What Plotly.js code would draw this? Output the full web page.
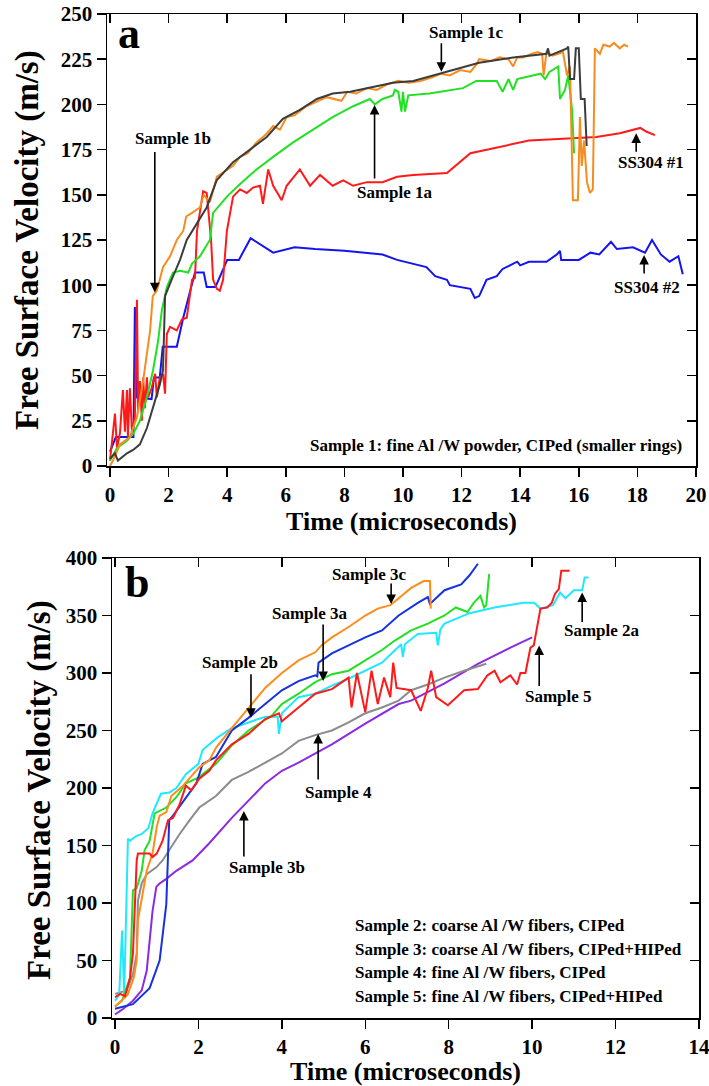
<!DOCTYPE html>
<html>
<head>
<meta charset="utf-8">
<script src="https://cdn.plot.ly/plotly-3.0.1.min.js"></script>
<style>html,body{margin:0;padding:0;background:#fff;}#chart{width:709px;height:1086px;}</style>
</head>
<body>
<div id="chart"></div>
<script>
// ---------- Panel a data (Time in microseconds, velocity in m/s) ----------
const s1b_t = [0,0.1,0.34,0.68,0.92,1.13,1.37,1.46,1.6,1.81,2.05,2.28,2.5,2.6,2.8,3.07,3.2,3.41,3.65,3.99,4.2,4.44,4.7,5.0,5.3,5.57,5.8,6.03,6.3,6.7,7.0,7.4,7.9,8.1,8.4,8.77,9.1,9.45,9.84,10.2,10.6,11.0,11.3,11.6,11.95,12.3,12.5,12.6,13.0,13.3,13.6,13.76,13.9,14.1,14.4,14.6,14.75,14.8,14.9,15.1,15.3,15.46,15.6,15.7,15.8,15.97,16.04,16.1,16.18,16.28,16.38,16.48,16.55,16.72,16.84,17.06,17.2,17.4,17.55,17.68];
const s1b_v = [0,3,12,16,27,47,75,94,97,110,116,125,130,138,140,143,150,146,160,164,166,171,173,179,183,188,186,193,194,199,201,204,202,207,206,209,208,211,213,212,213,215,217,216,219,218,222,225,224,226,225,221,226,226,228,229,228,216,229,227,228,229,216,221,147,147,193,166,180,157,151,153,231,228,233,232,234,231,233,232];

const s1c_t = [0,0.17,0.27,0.58,0.8,1.02,1.26,1.47,1.7,1.81,1.88,2.1,2.39,2.62,2.84,3.3,3.64,4.2,4.78,5.35,5.9,6.48,7.06,7.6,8.2,8.77,9.66,10.35,11.5,12.6,13.76,14.4,14.9,14.95,15.0,15.6,15.64,15.7,15.84,15.9,16.0,16.07,16.2,16.27];
const s1c_v = [4,7,3,7,9,12,21,32,45,53,94,103,114,125,131,143,158,168,175,182,192,197,203,206,207,209,212,213,218,223,226,227,228,231,227,231,232,214,214,231,231,203,203,177];

const s1a_t = [0,0.24,0.58,0.8,1.02,1.26,1.47,1.64,1.77,1.94,2.15,2.39,2.67,2.8,3.07,3.41,3.52,3.99,4.44,5.0,5.57,6.25,6.93,7.6,8.3,8.87,9.04,9.3,9.66,9.72,9.84,9.95,10.0,10.07,10.18,10.9,12.05,12.5,13.2,13.4,13.6,13.76,13.9,14.7,14.85,15.0,15.3,15.36,15.53,15.64,15.77,15.84];
const s1a_v = [3,10,14,18,25,38,53,69,86,99,107,108,107,112,116,125,140,149,156,164,171,179,186,193,199,203,200,203,205,208,207,196,207,196,205,206,209,213,213,207,214,208,214,217,214,218,221,203,208,216,197,173];

const ss1_t = [0,0.1,0.17,0.24,0.34,0.44,0.51,0.58,0.61,0.68,0.75,0.85,0.92,0.96,1.02,1.09,1.13,1.19,1.26,1.3,1.42,1.54,1.6,1.7,1.81,1.88,1.94,2.05,2.28,2.45,2.62,2.8,2.9,2.97,3.18,3.3,3.45,3.52,3.65,3.75,3.86,3.99,4.2,4.44,4.67,4.88,5.12,5.22,5.4,5.57,5.86,6.03,6.48,6.83,7.17,7.6,7.96,8.3,8.77,9.3,9.8,10.35,11.5,12.3,13.2,14.3,15.47,16.6,17.4,18.1,18.3,18.6];
const ss1_v = [3,19,29,10,18,42,19,42,16,43,19,27,92,31,47,25,49,32,49,38,43,51,38,49,51,40,73,77,75,81,82,103,104,130,152,151,125,103,98,97,103,130,149,153,151,154,155,145,164,155,147,155,164,155,161,155,158,155,157,157,160,161,162,173,176,180,181,182,184,187,185,183];

const ss2_t = [0,0.2,0.8,0.85,0.9,1.42,1.5,1.7,1.8,2.28,2.5,2.67,2.9,3.2,3.3,3.6,4.0,4.4,4.8,5.57,6.3,7.0,8.0,9.3,9.8,10.8,11.1,11.5,11.6,12.3,12.45,12.6,12.85,13.2,13.4,13.9,14.0,14.3,14.9,15.25,15.36,15.4,16.0,16.4,16.7,17.1,17.3,17.85,18.26,18.5,18.8,19.1,19.4,19.55];
const ss2_v = [8,16,16,88,38,37,49,49,66,66,82,93,107,107,99,99,114,114,126,118,121,120,119,117,114,110,105,103,100,98,93,94,103,105,109,113,111,113,113,117,119,114,114,118,117,124,120,121,118,125,117,113,116,106];

// ---------- Panel b data ----------
const s2a_t = [0,0.1,0.17,0.22,0.31,0.36,0.5,0.64,0.8,0.9,1.1,1.3,1.47,1.7,2.0,2.1,2.46,2.8,3.2,3.6,3.9,3.93,4.0,4.4,4.8,5.2,5.6,6.0,6.4,6.86,6.9,6.95,7.26,7.7,7.74,7.8,7.9,8.5,9.1,9.8,10.05,10.2,10.5,10.67,10.8,11.0,11.2,11.26,11.35];
const s2a_v = [15,20,76,20,156,154,158,160,165,178,195,196,200,212,221,233,244,252,257,262,262,247,265,279,282,289,295,302,309,325,314,325,334,335,324,338,343,352,357,361,361,356,359,370,365,372,372,383,383];

const s3c_t = [0,0.3,0.45,0.52,0.55,0.67,0.76,0.9,1.0,1.07,1.23,1.35,1.63,1.8,2.02,2.26,2.42,2.8,3.2,3.6,4.0,4.4,4.8,4.95,5.2,5.6,6.0,6.3,6.6,6.86,7.1,7.4,7.55,7.57];
const s3c_v = [10,20,35,50,85,108,128,143,166,176,179,193,202,209,218,224,235,252,270,287,300,311,318,324,331,340,350,356,359,367,374,380,380,356];

const s3a_t = [0,0.43,0.83,1.07,1.23,1.3,1.39,1.59,1.79,1.95,2.1,2.42,2.8,3.2,3.6,4.0,4.4,4.8,4.85,4.88,5.2,5.6,6.0,6.4,6.8,7.26,7.5,7.55,7.9,8.3,8.5,8.7];
const s3a_v = [8,12,26,50,99,172,176,186,195,204,221,227,250,261,273,285,293,298,297,309,317,324,331,337,350,361,366,360,372,377,385,395];

const sg_t = [0,0.17,0.36,0.43,0.52,0.64,0.71,0.83,0.95,1.23,1.47,1.7,2.0,2.42,2.8,3.2,3.76,4.0,4.4,4.8,5.2,5.6,6.0,6.4,6.7,7.1,7.5,7.9,8.17,8.45,8.6,8.76,8.85,8.9,8.97];
const sg_v = [10,15,35,111,113,128,146,154,178,183,192,204,209,221,237,250,263,273,282,292,299,302,311,320,328,337,343,350,357,353,361,367,357,359,386];

const s5_t = [0,0.12,0.24,0.36,0.43,0.52,0.55,0.83,0.9,1.0,1.14,1.27,1.39,1.55,1.7,1.83,2.02,2.26,2.42,2.8,3.2,3.6,3.93,4.0,4.4,4.8,5.2,5.6,5.67,5.8,6.0,6.15,6.3,6.45,6.6,6.67,6.75,7.1,7.33,7.5,7.58,7.7,7.98,8.37,8.7,8.93,9.1,9.24,9.48,9.64,9.72,9.84,9.96,10.04,10.2,10.36,10.47,10.55,10.64,10.7,10.9];
const s5_v = [18,21,19,35,56,137,143,143,140,143,154,172,174,186,202,198,208,215,224,238,247,260,265,258,270,282,286,296,270,300,266,302,273,296,279,309,287,285,267,287,302,279,272,285,286,298,302,292,298,290,300,300,322,324,356,357,361,369,373,389,389];

const s4_t = [0,0.28,0.43,0.52,0.55,0.64,0.76,0.99,1.14,1.3,1.55,1.79,2.02,2.42,2.8,3.2,3.6,4.0,4.4,4.8,5.2,5.6,6.0,6.4,6.8,7.1,7.5,7.9,8.37,8.9];
const s4_v = [21,24,38,56,102,117,125,131,137,146,160,172,183,193,207,214,222,230,241,246,250,257,265,270,276,285,290,296,302,308];

const s3b_t = [0,0.2,0.43,0.64,0.76,0.83,0.9,0.99,1.07,1.23,1.47,1.86,2.26,2.8,3.2,3.6,4.0,4.4,5.2,6.0,6.8,7.1,7.9,8.7,9.48,10.0];
const s3b_v = [3,8,15,24,41,65,93,114,117,121,128,137,152,174,189,204,215,222,238,256,273,276,291,308,322,331];

// ---------- Labels ----------
const yTitle = 'Free Surface Velocity (m/s)';
const xTitle = 'Time (microseconds)';
const noteA = 'Sample 1: fine Al /W powder, CIPed (smaller rings)';
const notesB = ['Sample 2: coarse Al /W fibers, CIPed','Sample 3: coarse Al /W fibers, CIPed+HIPed','Sample 4: fine Al /W fibers, CIPed','Sample 5: fine Al /W fibers, CIPed+HIPed'];

const FAM = 'Liberation Serif, Times New Roman, serif';
const W = 2;
function tr(x, y, color, xa, ya, name){
  return {x:x, y:y, type:'scatter', mode:'lines', line:{color:color, width:W}, xaxis:xa, yaxis:ya, name:name, showlegend:false, hoverinfo:'skip'};
}
const data = [
  tr(ss2_t, ss2_v, '#1414F0', 'x', 'y', 'SS304 #2'),
  tr(ss1_t, ss1_v, '#FF1A1A', 'x', 'y', 'SS304 #1'),
  tr(s1a_t, s1a_v, '#22E022', 'x', 'y', 'Sample 1a'),
  tr(s1b_t, s1b_v, '#F78C1E', 'x', 'y', 'Sample 1b'),
  tr(s1c_t, s1c_v, '#3C3C3C', 'x', 'y', 'Sample 1c'),
  tr(s3b_t, s3b_v, '#8A2BE2', 'x2', 'y2', 'Sample 3b'),
  tr(s4_t, s4_v, '#8C8C8C', 'x2', 'y2', 'Sample 4'),
  tr(s2a_t, s2a_v, '#20E8FF', 'x2', 'y2', 'Sample 2a'),
  tr(sg_t, sg_v, '#22E022', 'x2', 'y2', 'Sample 3a'),
  tr(s3a_t, s3a_v, '#1632E0', 'x2', 'y2', 'Sample 2b'),
  tr(s3c_t, s3c_v, '#FF8C1A', 'x2', 'y2', 'Sample 3c'),
  tr(s5_t, s5_v, '#FF1A1A', 'x2', 'y2', 'Sample 5'),
  {x:[], y:[], xaxis:'x3', yaxis:'y3', type:'scatter', showlegend:false},
  {x:[], y:[], xaxis:'x4', yaxis:'y4', type:'scatter', showlegend:false}
];

const tickFont = {family:FAM, size:21, color:'#000', weight:'bold'};
function mainAxis(extra){
  return Object.assign({showline:true, mirror:true, linecolor:'#000', linewidth:1.5, ticks:'outside', ticklen:9, tickwidth:1.5, tickcolor:'#000', showgrid:false, zeroline:false, tickfont:tickFont, fixedrange:true, ticklabeloverflow:'allow'}, extra);
}
function overAxis(extra){
  return Object.assign({showline:false, ticks:'inside', ticklen:9, tickwidth:1.5, tickcolor:'#000', showgrid:false, zeroline:false, showticklabels:false, fixedrange:true}, extra);
}
const xTop = [-0.102, 20.001], yTop = [0, 250.001];
const xBot = [-0.072, 14.001], yBot = [0, 400.001];
const domXa = [107/709, 696/709], domYa = [(1086-466)/1086, (1086-14)/1086];
const domXb = [112/709, 699/709], domYb = [(1086-1018)/1086, (1086-558)/1086];

const xTitleFont = {family:FAM, size:26, weight:'bold'};
const yTitleFont = {family:FAM, size:33, color:'#000', weight:'bold'};
const layout = {
  width:709, height:1086, margin:{l:0, r:0, t:0, b:0}, paper_bgcolor:'#fff', plot_bgcolor:'#fff', showlegend:false,
  font:{family:FAM, color:'#000'},
  xaxis: mainAxis({domain:domXa, range:xTop, dtick:2, tick0:0, anchor:'y', title:{text:xTitle, font:xTitleFont, standoff:2}}),
  yaxis: mainAxis({domain:domYa, range:yTop, dtick:25, tick0:0, anchor:'x'}),
  xaxis2: mainAxis({domain:domXb, range:xBot, dtick:2, tick0:0, anchor:'y2', title:{text:xTitle, font:xTitleFont, standoff:2}}),
  yaxis2: mainAxis({domain:domYb, range:yBot, dtick:50, tick0:0, anchor:'x2'}),
  xaxis3: overAxis({overlaying:'x', anchor:'y', side:'top', range:xTop, dtick:2, tick0:0}),
  yaxis3: overAxis({overlaying:'y', anchor:'x', side:'right', range:yTop, dtick:25, tick0:0}),
  xaxis4: overAxis({overlaying:'x2', anchor:'y2', side:'top', range:xBot, dtick:2, tick0:0}),
  yaxis4: overAxis({overlaying:'y2', anchor:'x2', side:'right', range:yBot, dtick:50, tick0:0}),
  annotations: []
};

// y-axis titles (rotated)
layout.annotations.push({text:yTitle, xref:'paper', yref:'paper', x:27/709, y:1-240/1086, textangle:-90, showarrow:false, font:yTitleFont, xanchor:'center', yanchor:'middle'});
layout.annotations.push({text:yTitle, xref:'paper', yref:'paper', x:39/709, y:1-790/1086, textangle:-90, showarrow:false, font:yTitleFont, xanchor:'center', yanchor:'middle'});

const annFont = {family:FAM, size:17, color:'#000', weight:'bold'};
function label(txt, x, y, xr, yr, xanchor){
  layout.annotations.push({text:txt, x:x, y:y, xref:xr, yref:yr, showarrow:false, font:annFont, xanchor:xanchor||'center', yanchor:'middle'});
}
function arrow(x, y, ay, xr, yr){
  layout.annotations.push({text:'', x:x, y:y, xref:xr, yref:yr, showarrow:true, ax:0, ay:ay, arrowhead:2, arrowsize:1.2, arrowwidth:1.6, arrowcolor:'#000', standoff:0});
}
// Panel a
layout.annotations.push({text:'a', x:0.64, y:239, xref:'x', yref:'y', showarrow:false, font:{family:FAM, size:44, color:'#000', weight:'bold'}, xanchor:'center', yanchor:'middle'});
label('Sample 1c', 12.16, 239.5, 'x', 'y'); arrow(11.31, 218, -30, 'x', 'y');
label('Sample 1b', 2.15, 181.4, 'x', 'y'); arrow(1.53, 96, -142, 'x', 'y');
label('Sample 1a', 9.74, 151, 'x', 'y'); arrow(9.03, 199.7, 75, 'x', 'y');
label('SS304 #1', 18.47, 167.6, 'x', 'y'); arrow(17.96, 184, 20, 'x', 'y');
label('SS304 #2', 18.33, 99, 'x', 'y'); arrow(18.23, 116.7, 20, 'x', 'y');
label(noteA, 19.59, 11.6, 'x', 'y', 'right');
// Panel b
layout.annotations.push({text:'b', x:0.53, y:379, xref:'x2', yref:'y2', showarrow:false, font:{family:FAM, size:44, color:'#000', weight:'bold'}, xanchor:'center', yanchor:'middle'});
label('Sample 3c', 6.11, 386, 'x2', 'y2'); arrow(6.62, 360, -22, 'x2', 'y2');
label('Sample 3a', 4.68, 352, 'x2', 'y2'); arrow(4.99, 293, -58, 'x2', 'y2');
label('Sample 2b', 3.0, 309, 'x2', 'y2'); arrow(3.26, 261, -45, 'x2', 'y2');
label('Sample 4', 5.35, 196, 'x2', 'y2'); arrow(4.87, 247, 47, 'x2', 'y2');
label('Sample 3b', 3.64, 131, 'x2', 'y2'); arrow(3.09, 180, 47, 'x2', 'y2');
label('Sample 5', 10.64, 280, 'x2', 'y2'); arrow(10.17, 324, 42, 'x2', 'y2');
label('Sample 2a', 11.68, 337, 'x2', 'y2'); arrow(11.2, 370, 31, 'x2', 'y2');
const legY = [80.7, 59.9, 39.9, 19.1];
notesB.forEach((t, i) => label(t, 5.71, legY[i], 'x2', 'y2', 'left'));

Plotly.newPlot('chart', data, layout, {displayModeBar:false, staticPlot:true});
</script>
</body>
</html>
